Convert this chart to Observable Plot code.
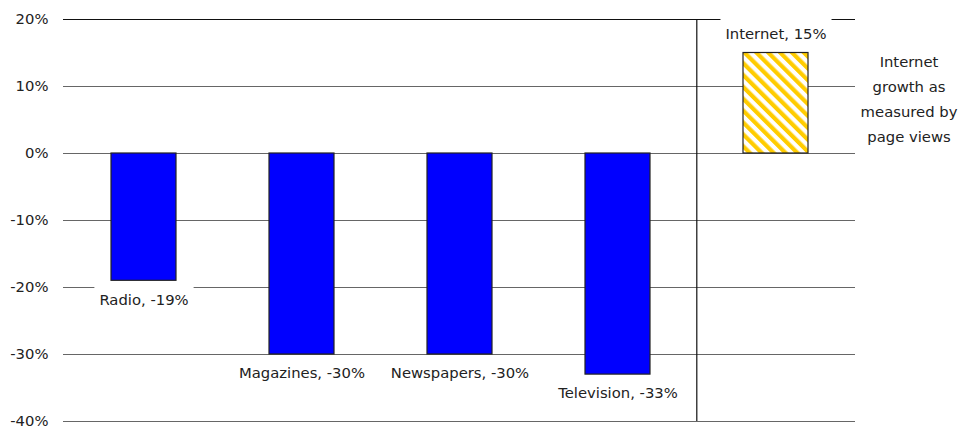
<!DOCTYPE html>
<html>
<head>
<meta charset="utf-8">
<script src="https://cdn.jsdelivr.net/npm/d3@7"></script>
<script src="https://cdn.jsdelivr.net/npm/@observablehq/plot@0.6"></script>
<style>
  html, body { margin: 0; padding: 0; background: #fff; }
  #chart svg { display: block; }
</style>
</head>
<body>
<div id="chart"></div>
<script>
// ---- data ----
const categories = ["Radio", "Magazines", "Newspapers", "Television", "Internet"];
const values = [-19, -30, -30, -33, 15];
const tickValues = [20, 10, 0, -10, -20, -30, -40];
const dividerBefore = ["Internet"];
const noteLines = ["Internet", "growth as", "measured by", "page views"];
const noteY = [8.5];

const data = categories.map((c, i) => ({category: c, value: values[i], label: `${c}, ${values[i]}%`}));
const note = [{category: "Internet", y: noteY[0], text: noteLines.join("\n")}];

const FONT = "'DejaVu Sans', sans-serif";
const FS = 14.8;

const chart = Plot.plot({
  width: 959,
  height: 428,
  marginTop: 19,
  marginBottom: 7,
  marginLeft: 63,
  marginRight: 104,
  style: {fontFamily: FONT, fontSize: FS + "px", color: "#222", background: "#fff"},
  x: {domain: categories, paddingInner: 0.59, paddingOuter: 0.295, axis: null},
  y: {domain: [-40, 20], axis: null},
  marks: [
    Plot.ruleY(tickValues, {stroke: d => d === 20 ? "#111" : "#666", strokeWidth: 1.2, strokeOpacity: 1}),
    Plot.ruleX(dividerBefore, {x: d => d, y1: tickValues[0], y2: tickValues[tickValues.length - 1], dx: -79.2, stroke: "#111", strokeWidth: 1.2}),
    Plot.axisY({ticks: tickValues, tickSize: 0, tickPadding: 15, tickFormat: d => d + "%", fontSize: FS, fill: "#222"}),
    Plot.barY(data, {x: "category", y1: 0, y2: "value",
      fill: d => d.value >= 0 ? "url(#hatch)" : "#0000ff",
      stroke: "#222", strokeWidth: 1.2}),
    Plot.text(data.filter(d => d.value < 0), {x: "category", y: "value", text: "label", dy: 19, fill: "#222", fontSize: FS}),
    Plot.text(data.filter(d => d.value >= 0), {x: "category", y: "value", text: "label", dy: -19, fill: "#222", fontSize: FS}),
    Plot.text(note, {x: "category", y: "y", text: "text", dx: 133, lineHeight: 1.68, fill: "#222", fontSize: FS})
  ]
});

document.getElementById("chart").appendChild(chart);

// hatch pattern definition
const svg = d3.select(chart);
const defs = svg.insert("defs", ":first-child");
const pat = defs.append("pattern")
  .attr("id", "hatch")
  .attr("patternUnits", "userSpaceOnUse")
  .attr("width", 8.4).attr("height", 8.4)
  .attr("patternTransform", "rotate(-45)");
pat.append("rect").attr("width", 8.4).attr("height", 8.4).attr("fill", "#fff");
pat.append("rect").attr("width", 4.2).attr("height", 8.4).attr("fill", "#ffcc00");

// white boxes behind value labels (covering gridlines)
const labelSet = new Set(data.map(d => d.label));
const svgBox = chart.getBoundingClientRect();
const bg = svg.insert("g", 'g[aria-label="text"]');
svg.selectAll("text").each(function() {
  if (!labelSet.has(this.textContent)) return;
  const r = this.getBoundingClientRect();
  bg.append("rect")
    .attr("x", r.left - svgBox.left - 5)
    .attr("y", r.top - svgBox.top - 7)
    .attr("width", r.width + 10)
    .attr("height", r.height + 14)
    .attr("fill", "#fff");
});
</script>
</body>
</html>
